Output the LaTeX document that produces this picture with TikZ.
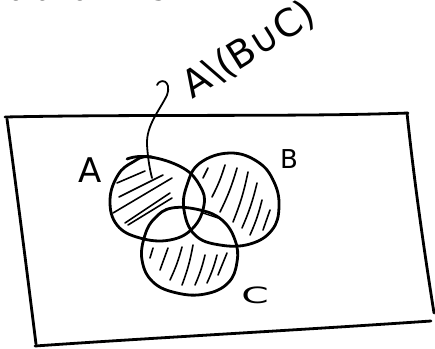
\documentclass[tikz,border=0pt]{standalone}
\usepackage{fontspec}
\setsansfont{DejaVu Sans}
\newfontfamily\handfont{DejaVu Sans}
\begin{document}
\begin{tikzpicture}[x=1pt,y=-1pt,
  outline/.style={line width=2.8pt,line cap=round,line join=round},
  hatch/.style={line width=1.6pt,line cap=round},
  lbl/.style={font=\handfont\fontsize{28}{28}\selectfont,inner sep=0pt}]
\useasboundingbox (0,0) rectangle (435,348);
% cut-off heading at the top
\node[lbl] (head) at (78,-10) {notation this};
% frame
\draw[outline] (5,117) .. controls (150,114) and (300,117) .. (408,113);
\draw[outline] (407,113) .. controls (414,180) and (424,250) .. (434,313);
\draw[outline] (431,321) .. controls (300,330) and (150,338) .. (35,346);
\draw[outline] (7,119) .. controls (18,200) and (28,280) .. (36,344);
% sets
\draw[outline] plot[smooth cycle,tension=0.7] coordinates {(150,157) (183,168) (200,186) (204,205) (193,228) (170,240) (140,238) (117,225) (110,200) (118,175) (133,162)};
\draw[outline] (127,159) .. controls (135,156) and (143,156) .. (152,157);
\draw[outline] plot[smooth cycle,tension=0.7] coordinates {(230,153) (258,162) (274,182) (279,207) (272,230) (250,244) (220,245) (195,235) (184,210) (187,185) (200,163)};
\draw[outline] plot[smooth cycle,tension=0.7] coordinates {(172,208) (200,210) (222,220) (235,240) (237,262) (228,283) (205,294) (177,293) (153,282) (142,260) (145,235) (155,218)};
\draw[line width=1.4pt] (203,213) -- (218,218);
% hatching A
\draw[hatch] (117,183) -- (145,171);
\draw[hatch] (119,197) -- (163,175);
\draw[hatch] (113,213) -- (172,178);
\draw[hatch] (125,223) -- (170,193);
\draw[hatch] (128,225) -- (172,198);
% hatching B
\draw[hatch] (203,178) -- (208,168);
\draw[hatch] (212,197) to[bend right=5] (225,165);
\draw[hatch] (220,212) to[bend right=5] (237,168);
\draw[hatch] (233,222) to[bend right=5] (248,172);
\draw[hatch] (242,228) to[bend right=5] (257,183);
\draw[hatch] (250,235) to[bend right=5] (262,200);
\draw[hatch] (263,230) -- (270,210);
% hatching C
\draw[hatch] (150,258) -- (153,248);
\draw[hatch] (160,270) -- (168,248);
\draw[hatch] (170,280) to[bend right=5] (182,247);
\draw[hatch] (182,285) to[bend right=5] (193,245);
\draw[hatch] (195,285) to[bend right=5] (205,255);
\draw[hatch] (207,283) to[bend right=5] (217,255);
\draw[hatch] (218,275) -- (227,253);
% labels
\node[lbl,font=\handfont\fontsize{34}{34}\selectfont] (la) at (90,170) {A};
\node[lbl,font=\handfont\fontsize{26}{26}\selectfont] (lb) at (289,159) {B};
\node[lbl,font=\handfont\fontsize{28}{28}\selectfont,xscale=1.4,yscale=0.8] (lc) at (255,295) {C};
% annotation
\node[lbl,font=\handfont\fontsize{38}{38}\selectfont,rotate=32] (ann) at (249,50) {A\textbackslash(B∪C)};
\coordinate (hook) at (157,85);
\coordinate (tip) at (152,178);
\draw[line width=1.8pt,line cap=round] (hook) .. controls (160,78) and (172,80) .. (167,95)
  .. controls (160,110) and (146,125) .. (147,145) .. controls (148,160) and (150,170) .. (tip);
\end{tikzpicture}
\end{document}
